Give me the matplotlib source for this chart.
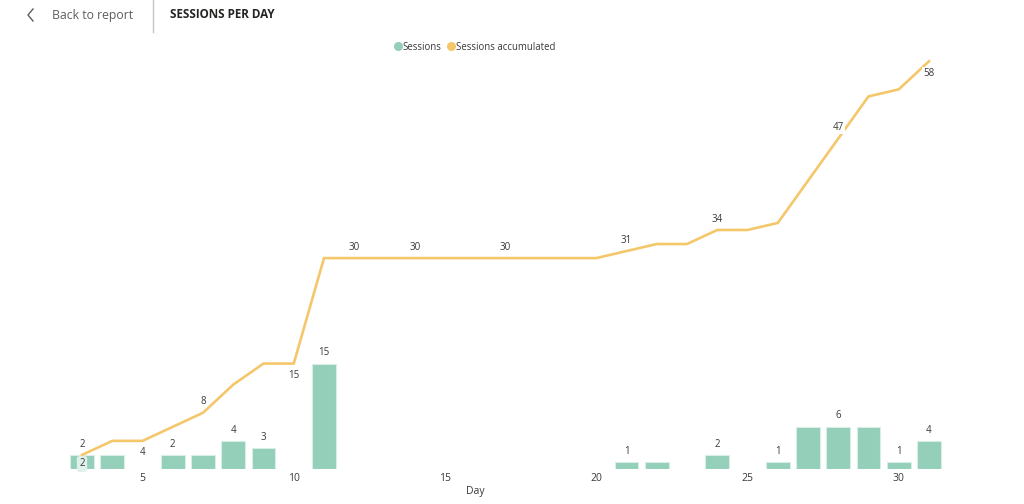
import numpy as np
import matplotlib.pyplot as plt
from matplotlib.lines import Line2D

plt.rcParams["font.family"] = ["Open Sans", "DejaVu Sans"]

days = list(range(3, 32))
sessions = [2, 2, 0, 2, 2, 4, 3, 0, 15,
            0, 0, 0, 0, 0, 0, 0, 0, 0,
            1, 1, 0, 2, 0, 1, 6, 6, 6, 1, 4]
accumulated = list(np.cumsum(sessions))

# which points carry a data label, and on which side of the line
bar_label_days = [6, 8, 9, 11, 21, 24, 26, 28, 30, 31]
line_label_days = {3: "above", 5: "below", 7: "above", 10: "below", 12: "above",
                   14: "above", 17: "above", 21: "above", 24: "above",
                   28: "above", 31: "below"}
xticks = [5, 10, 15, 20, 25, 30]

green = "#93CFB9"
yellow = "#F5C76B"
txt = "#3a3a3a"

W, H = 1024, 504
fig = plt.figure(figsize=(W / 100, H / 100), dpi=100)
base_px = 469
ax = fig.add_axes([0, (H - base_px) / H, 1, base_px / H])
px_per_day = 30.25
ax.set_xlim(3 - 82 / px_per_day, 3 + (W - 82) / px_per_day)
ax.set_ylim(0, base_px / 7.03)
for s in ax.spines.values():
    s.set_visible(False)
ax.set_yticks([])
ax.set_xticks(xticks)
ax.set_xticklabels([str(t) for t in xticks], fontsize=7.5, color=txt)
ax.tick_params(axis="x", length=0, pad=3)
ax.set_xlabel("Day", fontsize=7.5, color=txt)
ax.xaxis.set_label_coords(475 / W, -17 / base_px)

ax.bar(days, sessions, width=0.79, color=green, edgecolor="#d9efe6",
       linewidth=0.8, zorder=2)
ax.plot(days, accumulated, color=yellow, lw=1.9, zorder=3,
        solid_joinstyle="miter")

# bar labels
for d in bar_label_days:
    v = sessions[days.index(d)]
    ax.annotate(str(v), (d, v), xytext=(0, 7.8), textcoords="offset points",
                ha="center", va="center", fontsize=7, color=txt, zorder=5)
# highlighted label inside the first bar
ax.annotate(str(sessions[0]), (days[0], 0), xytext=(0, 3.6),
            textcoords="offset points", ha="center", va="center",
            fontsize=7, color=txt, zorder=5,
            bbox=dict(boxstyle="round,pad=0.25", fc="#dff1ea", ec="none"))

# line labels
for d, side in line_label_days.items():
    v = accumulated[days.index(d)]
    dy = 7.8 if side == "above" else -8.5
    ax.annotate(str(v), (d, v), xytext=(0, dy), textcoords="offset points",
                ha="center", va="center", fontsize=7, color=txt, zorder=6,
                bbox=dict(boxstyle="square,pad=0.1", fc="white", ec="none"))

# legend
handles = [Line2D([], [], marker="o", ls="", color=green, ms=5.5),
           Line2D([], [], marker="o", ls="", color=yellow, ms=5.5)]
fig.legend(handles, ["Sessions", "Sessions accumulated"], loc="center",
           bbox_to_anchor=(474 / W, 1 - 47 / H), ncol=2, frameon=False,
           fontsize=6.9, handletextpad=0.0, columnspacing=0.4,
           labelcolor=txt, handlelength=1.1)

# report header
fig.add_artist(Line2D([33 / W, 28 / W, 33 / W],
                      [1 - 9 / H, 1 - 15 / H, 1 - 21 / H],
                      color="#605e5c", lw=1))
fig.text(52 / W, 1 - 15 / H, "Back to report", fontsize=8.8,
         color="#605e5c", va="center", ha="left")
fig.add_artist(Line2D([153 / W, 153 / W], [1 - 0 / H, 1 - 32 / H],
                      color="#c8c6c4", lw=1))
fig.text(170 / W, 1 - 15 / H, "SESSIONS PER DAY", fontsize=8.4,
         fontweight="bold", color="#252423", va="center", ha="left")

fig.savefig("out.png", dpi=100, facecolor="white")
